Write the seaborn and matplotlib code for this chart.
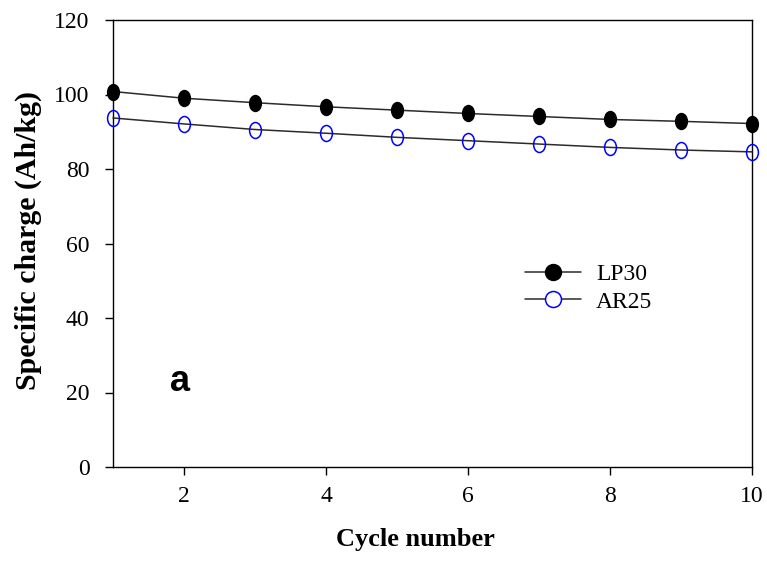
import numpy as np
import pandas as pd
import seaborn as sns
import matplotlib
matplotlib.use("Agg")
import matplotlib.pyplot as plt
from matplotlib.path import Path
from matplotlib.markers import MarkerStyle
from matplotlib.transforms import Affine2D
from matplotlib.lines import Line2D

# Specific charge over the first ten cycles for two electrolytes
cycles = [1, 2, 3, 4, 5, 6, 7, 8, 9, 10]
lp30 = [100.8, 99.0, 97.8, 96.7, 95.8, 94.9, 94.1, 93.3, 92.8, 92.2]
ar25 = [93.7, 92.1, 90.6, 89.6, 88.5, 87.6, 86.7, 85.8, 85.1, 84.6]
series_names = ["LP30", "AR25"]
x_ticks = [2, 4, 6, 8, 10]
y_ticks = [0, 20, 40, 60, 80, 100, 120]

df = pd.DataFrame({
    "cycle": cycles * 2,
    "charge": lp30 + ar25,
    "electrolyte": [series_names[0]] * len(cycles) + [series_names[1]] * len(cycles),
})

sns.set_theme(style="ticks")
plt.rcParams["font.family"] = ["Liberation Serif", "DejaVu Serif"]
plt.rcParams["text.color"] = "black"

fig = plt.figure(figsize=(7.67, 5.72), dpi=100)
ax = fig.add_axes([113 / 767, 1 - 467 / 572, 639 / 767, 447 / 572])

# slightly tall oval markers
oval = MarkerStyle(Path.unit_circle().transformed(Affine2D().scale(0.74, 1.0)))

line_color = "#2b2b2b"
sns.lineplot(data=df[df.electrolyte == "LP30"], x="cycle", y="charge", ax=ax,
             color=line_color, linewidth=1.1, marker=oval, markersize=11.5,
             markerfacecolor="black", markeredgecolor="black", markeredgewidth=1.0,
             clip_on=False, legend=False, zorder=3)
sns.lineplot(data=df[df.electrolyte == "AR25"], x="cycle", y="charge", ax=ax,
             color=line_color, linewidth=1.1, marker=oval, markersize=11.5,
             markerfacecolor="none", markeredgecolor="#0000ff", markeredgewidth=1.1,
             clip_on=False, legend=False, zorder=3)

ax.set_xlim(1, 10)
ax.set_ylim(0, 120)
ax.set_xticks(x_ticks)
ax.set_yticks(y_ticks)
ax.tick_params(axis="both", direction="out", length=6, width=1, color="black",
               labelsize=17, labelcolor="black", top=False, right=False)
ax.tick_params(axis="x", pad=8)
ax.tick_params(axis="y", pad=11)
for s in ax.spines.values():
    s.set_visible(True)
    s.set_color("black")
    s.set_linewidth(1.0)

ax.set_xlabel("Cycle number", fontsize=19, fontweight="bold", color="black")
ax.set_ylabel("Specific charge (Ah/kg)", fontsize=21.5, fontweight="bold", color="black")
ax.xaxis.set_label_coords(0.474, -0.163)
ax.xaxis.label.set_verticalalignment("center")
ax.yaxis.set_label_coords(-0.133, 0.507)
ax.yaxis.label.set_verticalalignment("center")

ax.text(1.94, 23.0, "a", fontsize=26, fontweight="bold", family=["Liberation Sans"],
        ha="center", va="center", color="black")

handles = [
    Line2D([], [], color=line_color, linewidth=1.1, marker="o", markersize=11.5,
           markerfacecolor="black", markeredgecolor="black"),
    Line2D([], [], color=line_color, linewidth=1.1, marker="o", markersize=11.5,
           markerfacecolor="white", markeredgecolor="#0000ff", markeredgewidth=1.1),
]
leg = ax.legend(handles, series_names, loc="center left", bbox_to_anchor=(0.645, 0.40),
                frameon=False, fontsize=17, handlelength=2.35, handletextpad=0.65,
                labelspacing=0.25, borderpad=0, borderaxespad=0)
for t in leg.get_texts():
    t.set_color("black")

fig.savefig("out.png", dpi=100)
